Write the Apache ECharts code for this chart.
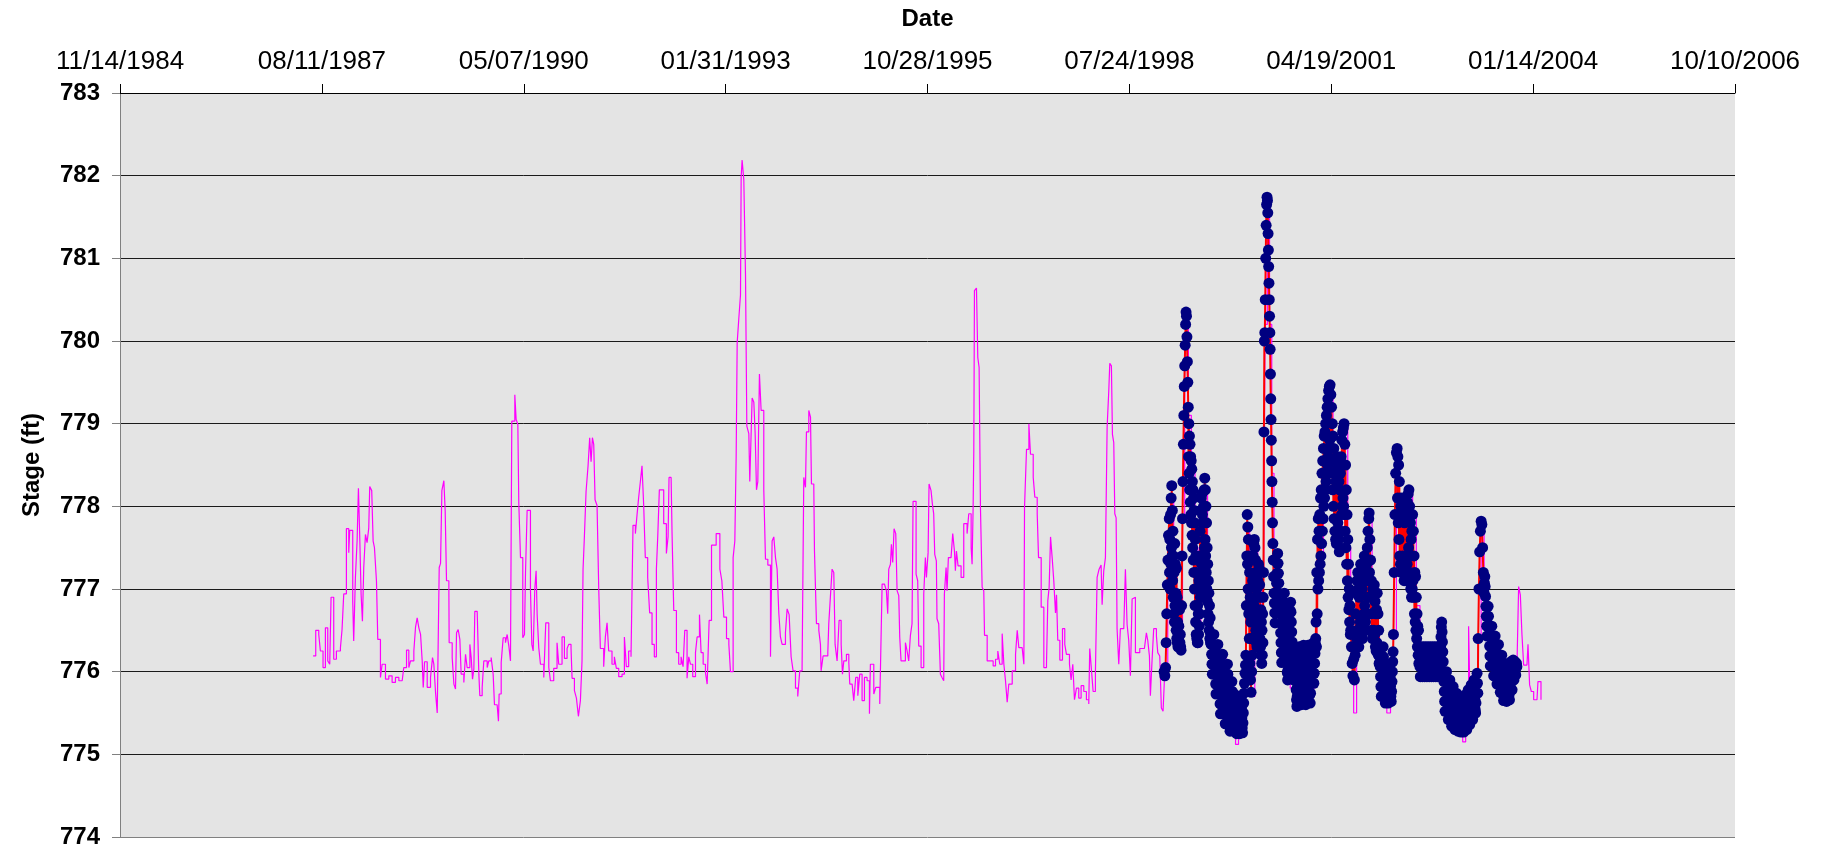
<!DOCTYPE html>
<html>
<head>
<meta charset="utf-8">
<script src="https://cdn.jsdelivr.net/npm/echarts@6/dist/echarts.min.js"></script>
<style>
html,body{margin:0;padding:0;background:#ffffff;}
#chart{width:1823px;height:861px;}
</style>
</head>
<body>
<div id="chart"></div>
<script>
// ---- data (decimal year, stage in ft) ----
const simulated = [
[1987.489,776.19],[1987.525,776.50],[1987.566,776.45],[1987.588,776.25],[1987.624,776.05],[1987.656,776.53],
[1987.688,776.13],[1987.715,776.09],[1987.733,776.90],[1987.769,776.15],[1987.805,776.25],[1987.860,776.29],
[1987.882,776.51],[1987.905,776.94],[1987.941,777.73],[1987.973,777.44],[1987.986,777.71],[1988.027,776.85],
[1988.040,776.37],[1988.063,777.14],[1988.086,777.58],[1988.104,778.22],[1988.122,777.62],[1988.140,776.94],
[1988.158,776.61],[1988.176,777.26],[1988.199,777.66],[1988.221,777.56],[1988.244,777.74],[1988.257,778.24],
[1988.284,778.19],[1988.303,777.58],[1988.321,777.50],[1988.348,777.10],[1988.366,776.39],[1988.402,775.93],
[1988.425,776.09],[1988.470,775.91],[1988.515,775.95],[1988.560,775.87],[1988.605,775.93],[1988.651,775.89],
[1988.696,775.87],[1988.718,776.05],[1988.755,776.26],[1988.786,776.05],[1988.809,776.13],[1988.854,776.25],
[1988.877,776.54],[1988.899,776.65],[1988.922,776.53],[1988.945,776.45],[1988.967,776.13],[1988.981,775.81],
[1988.999,776.12],[1989.035,775.81],[1989.080,775.93],[1989.107,776.17],[1989.125,776.09],[1989.148,775.75],
[1989.171,775.50],[1989.193,775.50],[1989.198,777.26],[1989.216,777.31],[1989.234,778.19],[1989.261,778.31],
[1989.279,777.94],[1989.297,777.10],[1989.329,776.98],[1989.333,776.35],[1989.374,776.17],[1989.397,775.85],
[1989.419,775.79],[1989.433,776.47],[1989.455,776.51],[1989.478,776.39],[1989.496,775.97],[1989.532,775.87],
[1989.555,776.21],[1989.577,776.05],[1989.614,776.33],[1989.632,776.17],[1989.650,775.91],[1989.668,776.03],
[1989.681,776.73],[1989.713,776.71],[1989.736,775.97],[1989.749,775.71],[1989.781,775.81],[1989.803,776.13],
[1989.849,776.05],[1989.871,776.13],[1989.903,776.17],[1989.930,775.97],[1989.948,775.60],[1989.984,775.58],
[1990.002,775.40],[1990.011,775.73],[1990.039,776.11],[1990.066,776.41],[1990.097,776.35],[1990.120,776.45],
[1990.143,776.31],[1990.165,776.13],[1990.183,779.03],[1990.224,779.35],[1990.242,779.05],[1990.265,778.99],
[1990.278,778.04],[1990.301,777.38],[1990.332,776.41],[1990.355,776.45],[1990.369,777.20],[1990.391,777.95],
[1990.418,777.95],[1990.436,777.00],[1990.455,776.33],[1990.473,776.25],[1990.495,777.00],[1990.513,777.22],
[1990.527,776.69],[1990.549,776.29],[1990.572,776.09],[1990.617,775.93],[1990.644,776.59],[1990.671,776.59],
[1990.685,776.05],[1990.707,775.89],[1990.752,776.04],[1990.797,776.35],[1990.820,776.09],[1990.865,776.42],
[1990.897,776.16],[1990.933,776.28],[1990.956,776.33],[1990.987,776.28],[1991.001,775.92],[1991.033,775.77],
[1991.060,775.68],[1991.087,775.46],[1991.114,775.65],[1991.136,776.13],[1991.150,777.24],[1991.168,777.63],
[1991.191,778.18],[1991.218,778.49],[1991.240,778.83],[1991.259,778.54],[1991.277,778.83],[1991.295,778.75],
[1991.313,778.08],[1991.340,778.01],[1991.363,777.00],[1991.385,776.28],[1991.430,776.06],[1991.453,776.42],
[1991.476,776.59],[1991.498,776.25],[1991.543,776.09],[1991.575,776.18],[1991.602,776.04],[1991.634,775.94],
[1991.679,775.97],[1991.711,776.42],[1991.738,776.06],[1991.769,776.25],[1991.801,776.18],[1991.828,777.77],
[1991.860,777.67],[1991.882,777.89],[1991.905,778.11],[1991.928,778.30],[1991.950,778.49],[1991.973,778.01],
[1991.995,777.38],[1992.027,777.14],[1992.054,776.71],[1992.086,776.33],[1992.117,776.18],[1992.145,777.24],
[1992.163,777.63],[1992.185,778.20],[1992.212,778.20],[1992.244,777.79],[1992.280,777.43],[1992.303,777.63],
[1992.316,778.35],[1992.344,778.35],[1992.357,777.67],[1992.380,776.74],[1992.416,776.23],[1992.447,776.09],
[1992.479,776.18],[1992.506,776.06],[1992.529,776.50],[1992.560,775.92],[1992.583,776.18],[1992.606,776.09],
[1992.637,775.94],[1992.674,776.23],[1992.696,776.42],[1992.728,776.69],[1992.750,776.23],[1992.778,776.09],
[1992.809,775.99],[1992.832,775.85],[1992.859,776.62],[1992.891,777.53],[1992.922,777.53],[1992.954,777.67],
[1992.981,777.67],[1993.004,777.24],[1993.031,777.10],[1993.058,776.66],[1993.094,776.40],[1993.126,776.33],
[1993.148,776.00],[1993.171,776.00],[1993.184,777.38],[1993.207,777.58],[1993.225,778.59],[1993.239,779.98],
[1993.261,780.27],[1993.284,780.56],[1993.293,781.98],[1993.306,782.19],[1993.329,781.95],[1993.352,780.80],
[1993.370,778.97],[1993.397,778.88],[1993.410,778.30],[1993.433,778.30],[1993.442,779.31],[1993.465,779.26],
[1993.483,778.88],[1993.501,778.20],[1993.519,778.30],[1993.541,779.60],[1993.564,779.16],[1993.600,778.20],
[1993.623,777.36],[1993.655,777.29],[1993.691,776.18],[1993.713,777.58],[1993.736,777.63],[1993.759,777.38],
[1993.781,777.24],[1993.804,776.71],[1993.826,776.42],[1993.849,776.33],[1993.894,776.47],[1993.917,776.76],
[1993.944,776.69],[1993.971,776.18],[1993.998,776.01],[1994.030,775.80],[1994.061,775.70],[1994.088,776.01],
[1994.120,776.04],[1994.143,778.35],[1994.166,778.23],[1994.179,778.90],[1994.211,779.16],[1994.234,779.08],
[1994.247,778.27],[1994.279,778.21],[1994.288,777.46],[1994.306,777.46],[1994.315,776.58],[1994.347,776.50],
[1994.369,776.33],[1994.378,776.01],[1994.405,776.19],[1994.469,776.23],[1994.482,776.58],[1994.505,776.92],
[1994.527,777.24],[1994.550,777.20],[1994.568,776.33],[1994.595,776.13],[1994.622,776.62],[1994.650,776.33],
[1994.668,775.97],[1994.686,776.13],[1994.722,776.21],[1994.754,776.11],[1994.767,775.85],[1994.799,775.83],
[1994.821,775.65],[1994.848,775.93],[1994.876,775.71],[1994.903,775.97],[1994.934,775.65],[1994.966,775.93],
[1995.002,775.89],[1995.034,775.49],[1995.047,776.09],[1995.070,776.09],[1995.093,775.73],[1995.120,775.81],
[1995.147,775.81],[1995.174,775.61],[1995.197,775.61],[1995.206,777.06],[1995.237,777.04],[1995.264,776.98],
[1995.282,776.70],[1995.296,777.24],[1995.319,777.30],[1995.332,777.54],[1995.350,777.32],[1995.368,777.73],
[1995.391,777.67],[1995.409,776.98],[1995.432,776.92],[1995.445,776.42],[1995.463,776.13],[1995.522,776.35],
[1995.545,776.25],[1995.567,776.13],[1995.590,776.44],[1995.612,776.58],[1995.626,778.06],[1995.653,778.06],
[1995.667,777.18],[1995.689,777.10],[1995.703,776.31],[1995.735,776.05],[1995.748,776.05],[1995.771,776.94],
[1995.793,777.38],[1995.807,777.14],[1995.830,777.44],[1995.843,778.27],[1995.870,778.19],[1995.888,778.03],
[1995.906,777.91],[1995.920,777.42],[1995.942,777.34],[1995.951,776.64],[1995.974,776.58],[1995.997,775.97],
[1996.019,775.93],[1996.042,775.89],[1996.051,776.94],[1996.074,777.26],[1996.087,776.98],[1996.105,777.38],
[1996.141,777.40],[1996.164,777.67],[1996.187,777.46],[1996.200,777.22],[1996.214,777.46],[1996.236,777.28],
[1996.277,777.14],[1996.313,777.79],[1996.358,777.67],[1996.381,777.91],[1996.413,777.50],[1996.426,777.30],
[1996.440,777.99],[1996.449,778.67],[1996.458,780.61],[1996.485,780.64],[1996.503,779.80],[1996.521,779.68],
[1996.539,777.99],[1996.562,777.02],[1996.584,776.98],[1996.594,776.44],[1996.630,776.13],[1996.675,776.13],
[1996.711,776.07],[1996.743,776.15],[1996.774,776.25],[1996.801,776.09],[1996.833,776.46],[1996.856,776.09],
[1996.878,775.89],[1996.901,775.63],[1996.923,775.85],[1996.969,776.01],[1997.014,776.21],[1997.037,776.50],
[1997.059,776.29],[1997.104,776.29],[1997.127,776.09],[1997.136,777.99],[1997.163,778.69],[1997.195,779.00],
[1997.217,778.63],[1997.254,778.35],[1997.276,778.11],[1997.308,777.91],[1997.326,777.38],[1997.362,776.78],
[1997.398,776.05],[1997.434,776.09],[1997.452,776.86],[1997.470,777.02],[1997.489,777.63],[1997.511,777.38],
[1997.533,777.10],[1997.556,776.71],[1997.570,776.93],[1997.587,776.38],[1997.615,776.14],[1997.651,776.52],
[1997.682,776.33],[1997.705,776.21],[1997.746,776.09],[1997.768,775.90],[1997.791,776.09],[1997.814,775.66],
[1997.841,775.80],[1997.872,775.68],[1997.904,775.83],[1997.940,775.76],[1997.976,775.66],[1998.008,775.61],
[1998.021,776.28],[1998.040,776.07],[1998.067,775.76],[1998.098,775.99],[1998.121,777.14],[1998.148,777.24],
[1998.175,777.29],[1998.189,776.81],[1998.211,777.22],[1998.234,777.38],[1998.257,778.96],[1998.279,779.39],
[1998.293,779.73],[1998.315,779.70],[1998.329,778.87],[1998.347,778.77],[1998.361,777.91],[1998.379,777.86],
[1998.392,776.52],[1998.415,776.09],[1998.437,776.52],[1998.483,776.52],[1998.505,777.24],[1998.528,776.57],
[1998.550,776.38],[1998.573,775.95],[1998.596,776.88],[1998.618,776.90],[1998.641,776.23],[1998.700,776.28],
[1998.763,776.28],[1998.790,776.47],[1998.808,776.38],[1998.831,776.19],[1998.844,775.71],[1998.867,776.14],
[1998.889,776.52],[1998.926,776.43],[1998.944,776.23],[1998.971,776.19],[1998.993,775.56],[1999.016,775.52],
[1999.034,775.90],[1999.050,776.00],[1999.080,777.30],[1999.120,778.10],[1999.160,777.30],[1999.200,776.90],
[1999.250,776.40],[1999.280,777.90],[1999.310,779.70],[1999.330,780.30],[1999.360,779.10],[1999.400,778.50],
[1999.450,777.50],[1999.490,776.30],[1999.530,777.80],[1999.580,778.20],[1999.620,777.00],[1999.670,776.40],
[1999.720,776.10],[1999.780,775.90],[1999.830,776.20],[1999.870,775.50],[1999.920,775.40],[1999.970,775.30],
[2000.000,775.12],[2000.040,775.30],[2000.090,775.35],[2000.130,775.60],[2000.155,777.80],[2000.190,776.50],
[2000.210,775.70],[2000.260,777.50],[2000.300,776.50],[2000.330,777.10],[2000.360,776.40],[2000.380,777.20],
[2000.400,780.20],[2000.430,781.70],[2000.460,780.20],[2000.490,778.40],[2000.520,776.90],[2000.550,777.30],
[2000.590,776.40],[2000.640,776.30],[2000.690,776.10],[2000.740,775.80],[2000.790,775.60],[2000.850,776.00],
[2000.900,775.80],[2000.960,776.10],[2001.020,775.80],[2001.070,776.30],[2001.100,777.20],[2001.140,777.40],
[2001.190,778.40],[2001.240,779.00],[2001.280,779.40],[2001.320,778.60],[2001.360,778.10],[2001.400,777.60],
[2001.440,778.50],[2001.470,779.00],[2001.520,777.50],[2001.560,776.50],[2001.600,775.50],[2001.640,776.80],
[2001.700,776.80],[2001.750,777.30],[2001.810,777.90],[2001.850,776.60],[2001.900,776.50],[2001.950,776.20],
[2002.000,775.90],[2002.050,775.50],[2002.100,775.60],[2002.140,776.40],[2002.180,778.60],[2002.220,778.00],
[2002.260,778.00],[2002.300,777.90],[2002.350,778.20],[2002.400,777.90],[2002.450,776.80],[2002.500,776.00],
[2002.560,776.00],[2002.620,776.10],[2002.680,776.00],[2002.740,776.00],[2002.776,776.60],[2002.820,775.60],
[2002.880,775.50],[2002.940,775.40],[2003.000,775.40],[2003.080,775.15],[2003.120,775.40],[2003.160,776.55],
[2003.180,775.60],[2003.240,775.60],[2003.290,776.40],[2003.330,777.80],[2003.370,777.00],[2003.420,776.50],
[2003.470,776.10],[2003.530,776.00],[2003.600,775.70],[2003.660,775.70],[2003.720,776.00],[2003.771,775.95],
[2003.816,776.06],[2003.839,777.03],[2003.862,776.93],[2003.884,776.45],[2003.907,776.08],[2003.952,776.08],
[2003.966,776.33],[2003.988,775.84],[2004.011,775.76],[2004.043,775.66],[2004.088,775.66],[2004.101,775.88],
[2004.124,775.88],[2004.142,775.66]
];

const observed = [
[1999.030,776.00],[1999.040,775.95],[1999.050,776.05],[1999.058,776.35],[1999.066,776.70],[1999.074,777.05],
[1999.082,777.35],[1999.090,777.65],
[1999.100,777.85],[1999.104,777.20],[1999.108,777.60],[1999.112,777.00],[1999.118,777.90],[1999.122,777.30],
[1999.126,778.10],[1999.130,777.50],[1999.134,778.25],[1999.138,777.40],[1999.142,777.95],[1999.146,777.10],
[1999.150,777.70],[1999.154,776.90],[1999.158,777.40],[1999.162,776.70],[1999.166,777.20],[1999.170,776.60],
[1999.174,777.55],[1999.178,776.80],[1999.182,777.30],[1999.186,776.60],[1999.190,776.95],[1999.194,776.50],
[1999.198,777.25],[1999.202,776.40],[1999.206,776.90],[1999.210,776.35],[1999.214,776.60],[1999.218,776.30],
[1999.222,776.80],[1999.226,776.40],[1999.230,776.55],[1999.235,776.30],[1999.240,776.75],[1999.245,776.35],
[1999.250,776.45],[1999.255,776.30],[1999.260,776.26],
[1999.268,776.80],[1999.274,777.40],[1999.280,777.85],[1999.286,778.30],[1999.292,778.75],[1999.298,779.10],
[1999.304,779.45],[1999.310,779.70],[1999.316,779.95],[1999.322,780.20],[1999.328,780.35],[1999.334,780.30],
[1999.340,780.05],[1999.346,779.75],[1999.352,779.50],[1999.358,779.20],[1999.362,778.60],[1999.366,779.00],
[1999.370,778.40],[1999.374,778.85],[1999.378,778.20],[1999.382,778.75],[1999.386,778.05],[1999.390,778.60],
[1999.394,777.90],[1999.398,778.55],[1999.402,777.80],[1999.406,778.45],[1999.410,777.65],[1999.414,778.30],
[1999.418,777.50],[1999.422,778.20],[1999.426,777.35],[1999.430,778.10],[1999.434,777.20],[1999.438,777.95],
[1999.442,777.00],[1999.446,777.80],[1999.450,776.80],[1999.454,777.60],[1999.458,776.60],[1999.462,777.40],
[1999.466,776.45],[1999.470,777.20],[1999.474,776.40],[1999.478,777.00],[1999.482,776.35],[1999.486,776.80],
[1999.490,776.35],[1999.494,776.70],[1999.498,776.45],[1999.502,777.10],[1999.506,776.55],[1999.510,777.40],
[1999.514,776.70],[1999.518,777.70],[1999.522,776.90],[1999.526,777.95],[1999.530,777.10],[1999.534,778.10],
[1999.538,777.30],[1999.542,778.15],[1999.546,777.20],[1999.550,777.90],[1999.554,777.00],[1999.558,777.80],
[1999.562,777.10],[1999.566,778.00],[1999.570,777.30],[1999.574,778.20],[1999.578,777.50],[1999.582,778.34],
[1999.586,777.60],[1999.590,778.20],[1999.594,777.40],[1999.598,778.00],[1999.602,777.20],[1999.606,777.80],
[1999.610,777.00],[1999.614,777.50],[1999.618,776.85],[1999.622,777.30],[1999.626,776.70],[1999.630,777.10],
[1999.634,776.60],[1999.638,776.95],[1999.642,776.50],[1999.646,776.80],[1999.650,776.40],[1999.655,776.65],
[1999.660,776.35],
[1999.665,776.45],[1999.670,776.33],[1999.675,776.21],[1999.680,776.09],[1999.685,775.97],[1999.690,776.09],
[1999.695,776.21],[1999.700,776.33],[1999.705,776.45],[1999.710,776.33],[1999.715,776.21],[1999.720,776.09],
[1999.725,775.97],[1999.730,775.85],[1999.735,775.73],[1999.740,775.85],[1999.745,775.97],[1999.750,776.09],
[1999.755,776.21],[1999.760,776.33],[1999.765,776.21],[1999.770,776.09],[1999.775,775.97],[1999.780,775.85],
[1999.785,775.73],[1999.790,775.61],[1999.795,775.49],[1999.800,775.61],[1999.805,775.73],[1999.810,775.85],
[1999.815,775.97],[1999.820,776.09],[1999.825,776.21],[1999.830,776.09],[1999.835,775.97],[1999.840,775.85],
[1999.845,775.73],[1999.850,775.61],[1999.855,775.49],[1999.860,775.37],[1999.865,775.49],[1999.870,775.61],
[1999.875,775.73],[1999.880,775.85],[1999.885,775.97],[1999.890,776.09],[1999.895,775.97],[1999.900,775.85],
[1999.905,775.73],[1999.910,775.61],[1999.915,775.49],[1999.920,775.37],[1999.925,775.28],[1999.930,775.40],
[1999.935,775.52],[1999.940,775.64],[1999.945,775.76],[1999.950,775.88],[1999.955,775.76],[1999.960,775.64],
[1999.965,775.52],[1999.970,775.40],[1999.975,775.28],[1999.980,775.40],[1999.985,775.52],[1999.990,775.64],
[1999.995,775.72],[2000.000,775.60],[2000.005,775.48],[2000.010,775.36],[2000.015,775.25],[2000.020,775.37],
[2000.025,775.49],[2000.030,775.61],[2000.035,775.70],[2000.040,775.58],[2000.045,775.46],[2000.050,775.34],
[2000.055,775.25],[2000.060,775.37],[2000.065,775.49],[2000.070,775.61],[2000.075,775.68],[2000.080,775.56],
[2000.085,775.44],[2000.090,775.32],[2000.095,775.26],[2000.100,775.38],[2000.105,775.50],[2000.110,775.62],
[2000.115,775.74],[2000.121,775.86],[2000.128,775.98],[2000.134,776.08],
[2000.140,776.20],[2000.146,776.80],[2000.152,777.40],
[2000.158,777.90],[2000.162,777.30],[2000.166,777.75],[2000.170,777.00],[2000.174,777.60],[2000.178,776.70],
[2000.182,777.40],[2000.186,776.40],[2000.190,777.20],[2000.194,776.10],[2000.198,776.90],[2000.202,775.90],
[2000.206,776.60],[2000.210,775.75],[2000.214,776.40],[2000.218,776.00],[2000.222,776.80],[2000.226,776.20],
[2000.230,777.10],[2000.234,776.40],[2000.238,777.40],[2000.242,776.60],[2000.246,777.55],[2000.250,776.80],
[2000.254,777.60],[2000.258,776.90],[2000.262,777.50],[2000.266,776.70],[2000.270,777.35],[2000.274,776.50],
[2000.278,777.20],[2000.282,776.35],[2000.286,777.00],[2000.290,776.30],[2000.294,776.90],[2000.298,776.45],
[2000.302,777.10],[2000.306,776.60],[2000.310,777.30],[2000.314,776.70],[2000.318,777.25],[2000.322,776.55],
[2000.326,777.05],[2000.330,776.40],[2000.334,776.90],[2000.338,776.30],[2000.342,776.75],[2000.346,776.20],
[2000.350,776.60],[2000.354,776.10],[2000.358,776.50],[2000.362,776.20],[2000.366,776.70],[2000.370,776.35],
[2000.374,776.90],[2000.378,777.20],
[2000.384,778.90],[2000.390,780.00],[2000.396,780.10],[2000.402,780.50],[2000.408,781.00],[2000.414,781.40],
[2000.420,781.65],[2000.426,781.74],[2000.432,781.70],[2000.436,781.55],[2000.440,781.30],[2000.444,781.10],
[2000.448,780.90],[2000.452,780.70],[2000.456,780.50],[2000.460,780.30],[2000.464,780.10],[2000.468,779.90],
[2000.472,779.60],[2000.476,779.30],[2000.480,779.05],[2000.484,778.80],[2000.488,778.55],[2000.492,778.30],
[2000.496,778.05],[2000.500,777.80],[2000.505,777.55],[2000.510,777.35],[2000.515,777.15],
[2000.520,776.95],[2000.525,776.83],[2000.530,776.71],[2000.535,776.59],[2000.540,776.71],[2000.545,776.83],
[2000.550,776.95],[2000.555,777.07],[2000.560,777.19],[2000.565,777.31],[2000.570,777.43],[2000.575,777.31],
[2000.580,777.19],[2000.585,777.07],[2000.590,776.95],[2000.595,776.83],[2000.600,776.71],[2000.605,776.59],
[2000.610,776.47],[2000.615,776.35],[2000.620,776.23],[2000.625,776.11],[2000.630,776.23],[2000.635,776.35],
[2000.640,776.47],[2000.645,776.59],[2000.650,776.71],[2000.655,776.83],[2000.660,776.95],[2000.665,776.83],
[2000.670,776.71],[2000.675,776.59],[2000.680,776.47],[2000.685,776.35],[2000.690,776.23],[2000.695,776.11],
[2000.700,775.99],[2000.705,775.90],[2000.710,776.02],[2000.715,776.14],[2000.720,776.26],[2000.725,776.38],
[2000.730,776.50],[2000.735,776.62],[2000.740,776.74],[2000.745,776.84],[2000.750,776.72],[2000.755,776.60],
[2000.760,776.48],[2000.765,776.36],[2000.770,776.24],[2000.775,776.12],[2000.780,776.00],[2000.785,775.90],
[2000.790,776.02],[2000.795,776.14],[2000.800,776.26],[2000.805,776.14],[2000.810,776.02],[2000.815,775.90],
[2000.820,775.78],[2000.825,775.66],[2000.830,775.58],[2000.835,775.70],[2000.840,775.82],[2000.845,775.94],
[2000.850,776.06],[2000.855,776.18],[2000.860,776.30],[2000.865,776.18],[2000.870,776.06],[2000.875,775.94],
[2000.880,775.82],[2000.885,775.70],[2000.890,775.60],[2000.895,775.72],[2000.900,775.84],[2000.905,775.96],
[2000.910,776.08],[2000.915,776.20],[2000.920,776.32],[2000.925,776.20],[2000.930,776.08],[2000.935,775.96],
[2000.940,775.84],[2000.945,775.72],[2000.950,775.60],[2000.955,775.72],[2000.960,775.84],[2000.965,775.96],
[2000.970,776.08],[2000.975,776.20],[2000.980,776.32],[2000.985,776.20],[2000.990,776.08],[2000.995,775.96],
[2001.000,775.84],[2001.005,775.72],[2001.010,775.62],[2001.015,775.74],[2001.020,775.86],[2001.025,775.98],
[2001.030,776.10],[2001.035,776.22],[2001.040,776.34],[2001.045,776.22],[2001.050,776.10],[2001.055,775.98],
[2001.060,775.86],[2001.065,775.98],[2001.070,776.10],[2001.075,776.22],[2001.080,776.34],[2001.085,776.40],
[2001.090,776.60],[2001.095,776.30],[2001.100,777.20],[2001.105,776.70],[2001.110,777.60],[2001.115,777.00],
[2001.120,777.85],[2001.125,777.10],[2001.130,777.70],[2001.135,777.20],[2001.140,777.90],[2001.145,777.30],
[2001.150,778.10],[2001.155,777.40],[2001.160,778.20],[2001.165,777.55],[2001.170,778.40],[2001.175,777.70],
[2001.180,778.55],[2001.185,777.85],[2001.190,778.70],[2001.195,778.00],[2001.200,778.85],[2001.205,778.10],
[2001.210,778.90],[2001.215,778.20],[2001.220,779.00],[2001.225,778.30],[2001.230,779.10],[2001.235,778.40],
[2001.240,779.20],[2001.245,778.50],[2001.250,779.30],[2001.255,778.60],[2001.260,779.40],[2001.265,778.70],
[2001.270,779.45],[2001.275,778.80],[2001.280,779.47],[2001.285,778.70],[2001.290,779.35],[2001.295,778.55],
[2001.300,779.20],[2001.305,778.40],[2001.310,779.00],[2001.315,778.20],[2001.320,778.85],[2001.325,778.00],
[2001.330,778.70],[2001.335,777.85],[2001.340,778.55],[2001.345,777.70],[2001.350,778.40],[2001.355,777.60],
[2001.360,778.30],[2001.365,777.55],[2001.370,778.50],[2001.375,777.70],[2001.380,778.60],[2001.385,777.80],
[2001.390,778.45],[2001.395,777.60],[2001.400,778.30],[2001.405,777.45],[2001.410,778.20],[2001.415,777.50],
[2001.420,778.40],[2001.425,777.70],[2001.430,778.60],[2001.435,777.90],[2001.440,778.80],[2001.445,778.00],
[2001.450,778.90],[2001.455,778.10],[2001.460,778.95],[2001.465,778.00],[2001.470,779.00],[2001.475,777.90],
[2001.480,778.75],[2001.485,777.70],[2001.490,778.50],[2001.495,777.50],[2001.500,778.20],[2001.505,777.30],
[2001.510,777.90],[2001.515,777.10],[2001.520,777.60],[2001.525,776.90],[2001.530,777.30],[2001.535,776.75],
[2001.540,777.00],[2001.545,776.60],[2001.550,776.80],[2001.555,776.45],[2001.560,776.50],
[2001.570,776.30],[2001.580,776.10],[2001.590,775.95],[2001.600,776.15],[2001.610,775.90],
[2001.620,776.20],[2001.625,776.70],[2001.630,776.30],[2001.635,776.95],[2001.640,776.40],[2001.645,777.10],
[2001.650,776.50],[2001.655,777.20],[2001.660,776.40],[2001.665,777.00],[2001.670,776.30],[2001.675,776.90],
[2001.680,776.50],[2001.685,777.20],[2001.690,776.60],[2001.695,777.30],[2001.700,776.55],[2001.705,777.10],
[2001.710,776.45],[2001.715,777.00],[2001.720,776.40],[2001.725,777.15],[2001.730,776.60],[2001.735,777.30],
[2001.740,776.70],[2001.745,777.40],[2001.750,776.80],[2001.755,777.20],[2001.760,776.60],[2001.765,777.10],
[2001.770,776.50],[2001.775,777.30],[2001.780,776.70],[2001.785,777.50],[2001.790,776.90],[2001.795,777.70],
[2001.800,777.10],[2001.805,777.85],[2001.810,777.92],[2001.815,777.20],[2001.820,777.60],[2001.825,776.90],
[2001.830,777.35],[2001.835,776.70],[2001.840,777.10],[2001.845,776.50],[2001.850,776.90],[2001.855,776.40],
[2001.860,777.00],[2001.865,776.45],[2001.870,776.95],[2001.875,776.50],[2001.880,777.05],[2001.885,776.45],
[2001.890,776.85],[2001.895,776.30],[2001.900,776.70],[2001.905,776.25],[2001.910,776.75],[2001.915,776.35],
[2001.920,776.95],[2001.925,776.30],[2001.930,776.70],[2001.935,776.20],[2001.940,776.50],[2001.945,776.10],
[2001.950,776.30],
[2001.955,776.18],[2001.960,776.06],[2001.965,775.94],[2001.970,775.82],[2001.975,775.70],[2001.980,775.82],
[2001.985,775.94],[2001.990,776.06],[2001.995,776.18],[2002.000,776.30],[2002.005,776.18],[2002.010,776.06],
[2002.015,775.94],[2002.020,775.82],[2002.025,775.70],[2002.030,775.62],[2002.035,775.74],[2002.040,775.86],
[2002.045,775.98],[2002.050,776.08],[2002.055,775.96],[2002.060,775.84],[2002.065,775.72],[2002.070,775.62],
[2002.075,775.74],[2002.080,775.86],[2002.085,775.98],[2002.090,776.06],[2002.095,775.94],[2002.100,775.82],
[2002.105,775.70],[2002.110,775.64],[2002.115,775.76],[2002.120,775.88],[2002.125,776.00],[2002.130,776.12],
[2002.135,776.24],
[2002.140,776.45],[2002.150,777.20],[2002.160,777.90],[2002.170,778.40],[2002.180,778.65],
[2002.190,778.70],[2002.195,778.10],[2002.200,778.60],[2002.205,777.80],[2002.210,778.50],[2002.215,777.60],
[2002.220,778.30],[2002.225,777.40],[2002.230,778.10],[2002.235,777.30],[2002.240,778.00],[2002.245,777.20],
[2002.250,777.95],[2002.255,777.30],[2002.260,778.10],[2002.265,777.40],[2002.270,778.00],[2002.275,777.20],
[2002.280,777.85],[2002.285,777.10],[2002.290,777.80],[2002.295,777.30],[2002.300,778.00],[2002.305,777.20],
[2002.310,777.85],[2002.315,777.10],[2002.320,777.90],[2002.325,777.30],[2002.330,778.05],[2002.335,777.40],
[2002.340,778.15],[2002.345,777.50],[2002.350,778.20],[2002.355,777.40],[2002.360,778.00],[2002.365,777.20],
[2002.370,777.80],[2002.375,777.00],[2002.380,777.60],[2002.385,776.90],[2002.390,777.70],[2002.395,777.00],
[2002.400,777.90],[2002.405,777.10],[2002.410,777.70],[2002.415,776.90],[2002.420,777.40],[2002.425,776.70],
[2002.430,777.20],[2002.435,776.60],[2002.440,777.15],[2002.445,776.50],[2002.450,776.90],[2002.455,776.40],
[2002.460,776.70],[2002.465,776.30],[2002.470,776.55],[2002.475,776.20],[2002.480,776.50],[2002.485,776.10],
[2002.490,776.30],
[2002.495,776.18],[2002.500,776.06],[2002.505,775.94],[2002.510,776.06],[2002.515,776.18],[2002.520,776.30],
[2002.525,776.18],[2002.530,776.06],[2002.535,775.94],[2002.540,776.06],[2002.545,776.18],[2002.550,776.30],
[2002.555,776.18],[2002.560,776.06],[2002.565,775.94],[2002.570,776.06],[2002.575,776.18],[2002.580,776.30],
[2002.585,776.18],[2002.590,776.06],[2002.595,775.94],[2002.600,776.06],[2002.605,776.18],[2002.610,776.30],
[2002.615,776.18],[2002.620,776.06],[2002.625,775.94],[2002.630,776.06],[2002.635,776.18],[2002.640,776.30],
[2002.645,776.18],[2002.650,776.06],[2002.655,775.94],[2002.660,776.06],[2002.665,776.18],[2002.670,776.30],
[2002.675,776.18],[2002.680,776.06],[2002.685,775.94],[2002.690,776.06],[2002.695,776.18],[2002.700,776.30],
[2002.705,776.18],[2002.710,776.06],[2002.715,775.94],[2002.720,776.06],[2002.725,776.18],[2002.730,776.30],
[2002.735,776.18],[2002.740,776.06],[2002.745,775.94],[2002.750,776.06],[2002.755,776.18],[2002.760,776.30],
[2002.765,776.18],[2002.770,776.06],[2002.775,776.18],[2002.780,776.30],[2002.785,776.42],[2002.790,776.54],
[2002.795,776.60],[2002.800,776.48],[2002.805,776.36],[2002.810,776.24],[2002.815,776.12],[2002.820,776.00],
[2002.825,775.88],[2002.830,775.76],[2002.835,775.64],[2002.840,775.52],[2002.845,775.64],[2002.850,775.76],
[2002.855,775.88],[2002.860,776.00],[2002.865,775.88],[2002.870,775.76],[2002.875,775.64],[2002.880,775.52],
[2002.885,775.42],[2002.890,775.54],[2002.895,775.66],[2002.900,775.78],[2002.905,775.90],[2002.910,775.78],
[2002.915,775.66],[2002.920,775.54],[2002.925,775.42],[2002.930,775.34],[2002.935,775.46],[2002.940,775.58],
[2002.945,775.70],[2002.950,775.82],[2002.955,775.70],[2002.960,775.58],[2002.965,775.46],[2002.970,775.34],
[2002.975,775.30],[2002.980,775.42],[2002.985,775.54],[2002.990,775.66],[2002.995,775.74],[2003.000,775.62],
[2003.005,775.50],[2003.010,775.38],[2003.015,775.28],[2003.020,775.40],[2003.025,775.52],[2003.030,775.64],
[2003.035,775.70],[2003.040,775.58],[2003.045,775.46],[2003.050,775.34],[2003.055,775.27],[2003.060,775.39],
[2003.065,775.51],[2003.070,775.63],[2003.075,775.68],[2003.080,775.56],[2003.085,775.44],[2003.090,775.32],
[2003.095,775.27],[2003.100,775.39],[2003.105,775.51],[2003.110,775.63],[2003.115,775.72],[2003.120,775.60],
[2003.125,775.48],[2003.130,775.36],[2003.135,775.30],[2003.140,775.42],[2003.145,775.54],[2003.150,775.66],
[2003.155,775.78],[2003.160,775.66],[2003.165,775.54],[2003.170,775.42],[2003.175,775.36],[2003.180,775.48],
[2003.185,775.60],[2003.190,775.72],[2003.195,775.84],[2003.200,775.72],[2003.205,775.60],[2003.210,775.48],
[2003.215,775.42],[2003.220,775.54],[2003.225,775.66],[2003.230,775.78],[2003.235,775.90],[2003.240,775.78],
[2003.245,775.66],[2003.250,775.54],[2003.255,775.50],[2003.260,775.62],[2003.265,775.74],[2003.270,775.86],
[2003.275,775.98],[2003.280,775.86],[2003.285,775.74],
[2003.290,776.40],[2003.300,777.00],[2003.310,777.45],[2003.320,777.70],[2003.330,777.82],[2003.340,777.78],
[2003.350,777.50],[2003.360,777.20],[2003.370,776.95],
[2003.375,777.07],[2003.380,777.15],[2003.385,777.03],[2003.390,776.91],[2003.395,776.79],[2003.400,776.67],
[2003.405,776.55],[2003.410,776.43],[2003.415,776.55],[2003.420,776.67],[2003.425,776.79],[2003.430,776.67],
[2003.435,776.55],[2003.440,776.43],[2003.445,776.31],[2003.450,776.19],[2003.455,776.07],[2003.460,776.19],
[2003.465,776.31],[2003.470,776.43],[2003.475,776.55],[2003.480,776.43],[2003.485,776.31],[2003.490,776.19],
[2003.495,776.07],[2003.500,775.95],[2003.505,776.07],[2003.510,776.19],[2003.515,776.31],[2003.520,776.43],
[2003.525,776.31],[2003.530,776.19],[2003.535,776.07],[2003.540,775.95],[2003.545,775.85],[2003.550,775.97],
[2003.555,776.09],[2003.560,776.21],[2003.565,776.33],[2003.570,776.21],[2003.575,776.09],[2003.580,775.97],
[2003.585,775.85],[2003.590,775.75],[2003.595,775.87],[2003.600,775.99],[2003.605,776.11],[2003.610,776.20],
[2003.615,776.08],[2003.620,775.96],[2003.625,775.84],[2003.630,775.72],[2003.635,775.65],[2003.640,775.77],
[2003.645,775.89],[2003.650,776.01],[2003.655,776.10],[2003.660,775.98],[2003.665,775.86],[2003.670,775.74],
[2003.675,775.64],[2003.680,775.76],[2003.685,775.88],[2003.690,776.00],[2003.695,776.08],[2003.700,775.96],
[2003.705,775.84],[2003.710,775.72],[2003.715,775.66],[2003.720,775.78],[2003.725,775.90],[2003.730,776.02],
[2003.735,776.12],[2003.740,776.00],[2003.745,775.88],[2003.750,775.78],[2003.755,775.90],[2003.760,776.02],
[2003.765,776.14],[2003.770,776.02],[2003.775,775.90],[2003.780,775.96],[2003.785,776.06],[2003.790,776.12],
[2003.795,776.02],[2003.800,775.96],[2003.805,776.06],[2003.810,776.10],[2003.815,776.06]
];

const axisStartDate = [1984, 11, 14];   // first tick of the date axis
const tickStepDays = 1000;               // spacing of date ticks
const tickCount = 8;                      // number of steps to the last tick (10/10/2006)
const stageTicks = [774, 783, 1];         // min, max, step of the stage axis

// ---- helpers ----
const DAY = 86400000;
const originMs = Date.UTC(axisStartDate[0], axisStartDate[1] - 1, axisStartDate[2]);
function yearToDays(y) {
  const yi = Math.floor(y);
  const s = Date.UTC(yi, 0, 1), e = Date.UTC(yi + 1, 0, 1);
  return (s + (y - yi) * (e - s) - originMs) / DAY;
}
function pad(n) { return (n < 10 ? '0' : '') + n; }
function fmtDate(v) {
  const d = new Date(originMs + Math.round(v) * DAY);
  return pad(d.getUTCMonth() + 1) + '/' + pad(d.getUTCDate()) + '/' + d.getUTCFullYear();
}

const FONT = '"Liberation Sans", Arial, Helvetica, sans-serif';
const chart = echarts.init(document.getElementById('chart'), null, { renderer: 'canvas' });

const splitColors = [];
for (let v = stageTicks[0]; v <= stageTicks[1]; v += stageTicks[2]) {
  splitColors.push(v === stageTicks[0] ? '#808080' : '#1a1a1a');
}

chart.setOption({
  animation: false,
  backgroundColor: '#ffffff',
  grid: {
    left: 120, right: 88, top: 93, bottom: 24,
    show: true, backgroundColor: '#e4e4e4', borderWidth: 0
  },
  xAxis: {
    type: 'value',
    position: 'top',
    min: 0,
    max: tickStepDays * tickCount,
    interval: tickStepDays,
    name: 'Date',
    nameLocation: 'middle',
    nameGap: 62,
    nameTextStyle: { fontFamily: FONT, fontSize: 24, fontWeight: 'bold', color: '#000' },
    axisLine: { show: true, onZero: false, lineStyle: { color: '#000', width: 1 } },
    axisTick: { show: true, inside: false, length: 9, lineStyle: { color: '#000', width: 1 } },
    axisLabel: { fontFamily: FONT, fontSize: 26, color: '#000', margin: 18, formatter: fmtDate },
    splitLine: { show: false }
  },
  yAxis: {
    type: 'value',
    min: stageTicks[0],
    max: stageTicks[1],
    interval: stageTicks[2],
    name: 'Stage (ft)',
    nameLocation: 'middle',
    nameGap: 76,
    nameTextStyle: { fontFamily: FONT, fontSize: 24, fontWeight: 'bold', color: '#000' },
    axisLine: { show: true, lineStyle: { color: '#808080', width: 1 } },
    axisTick: { show: true, inside: false, length: 8, lineStyle: { color: '#808080', width: 1 } },
    axisLabel: { fontFamily: FONT, fontSize: 24, fontWeight: 'bold', color: '#000', margin: 20, padding: [19, 0, 0, 0] },
    splitLine: { show: true, lineStyle: { color: splitColors, width: 1 } }
  },
  series: [
    {
      name: 'Simulated',
      type: 'line',
      step: 'end',
      data: simulated.map(p => [yearToDays(p[0]), p[1]]),
      showSymbol: false,
      lineStyle: { color: '#ff00ff', width: 1.2 },
      itemStyle: { color: '#ff00ff' },
      z: 2,
      silent: true
    },
    {
      name: 'Observed',
      type: 'line',
      data: observed.map(p => [yearToDays(p[0]), p[1]]),
      symbol: 'circle',
      symbolSize: 11,
      showSymbol: true,
      lineStyle: { color: '#ff0000', width: 2 },
      itemStyle: { color: '#000080' },
      z: 3,
      silent: true
    }
  ]
});
</script>
</body>
</html>
